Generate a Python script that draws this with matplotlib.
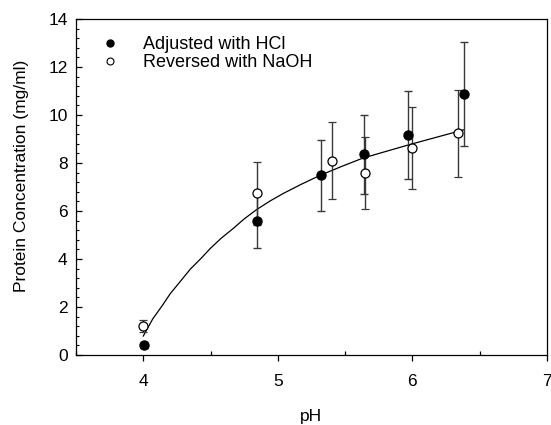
import matplotlib
matplotlib.use("Agg")
import matplotlib.pyplot as plt
from matplotlib.ticker import MultipleLocator
from matplotlib.lines import Line2D

plt.rcParams['font.family'] = ['Liberation Sans', 'DejaVu Sans']

# Adjusted with HCl (filled)
hcl_ph = [4.005, 4.847, 5.319, 5.64, 5.967, 6.38]
hcl_conc = [0.40, 5.60, 7.48, 8.36, 9.17, 10.88]
hcl_err = [0.10, 1.13, 1.48, 1.66, 1.82, 2.17]

# Reversed with NaOH (open)
naoh_ph = [4.0, 4.845, 5.40, 5.645, 6.0, 6.336]
naoh_conc = [1.22, 6.74, 8.10, 7.57, 8.62, 9.23]
naoh_err = [0.25, 1.31, 1.60, 1.50, 1.72, 1.82]

# Fitted curve
fit_ph = [4.00, 4.07, 4.14, 4.20, 4.28, 4.35, 4.43, 4.50, 4.58, 4.67, 4.75, 4.84,
          4.94, 5.04, 5.18, 5.32, 5.48, 5.63, 5.82, 6.00, 6.19, 6.38]
fit_conc = [0.79, 1.50, 2.05, 2.55, 3.10, 3.58, 4.03, 4.45, 4.87, 5.28, 5.67, 6.05,
            6.41, 6.73, 7.13, 7.50, 7.87, 8.20, 8.51, 8.80, 9.09, 9.38]

fig = plt.figure(figsize=(5.51, 4.25), dpi=100)
ax = fig.add_axes([0.1379, 0.1647, 0.8548, 0.7906])

ax.plot(fit_ph, fit_conc, color='black', lw=0.9, zorder=2)

ekw = dict(ecolor='#383838', elinewidth=1.0, capsize=3.2, capthick=1.0, ls='none', zorder=3)
ax.errorbar(hcl_ph, hcl_conc, yerr=hcl_err, fmt='o', mfc='black', mec='black',
            ms=6.5, label='Adjusted with HCl', **ekw)
ax.errorbar(naoh_ph, naoh_conc, yerr=naoh_err, fmt='o', mfc='white', mec='black',
            mew=0.9, ms=6.5, label='Reversed with NaOH', **ekw)

ax.set_xlim(3.5, 7)
ax.set_ylim(0, 14)
ax.xaxis.set_major_locator(MultipleLocator(1))
ax.xaxis.set_minor_locator(MultipleLocator(0.5))
ax.yaxis.set_major_locator(MultipleLocator(2))
ax.yaxis.set_minor_locator(MultipleLocator(0.4))

ax.tick_params(axis='x', which='major', direction='out', length=4, width=0.9, labelsize=12.5, pad=10)
ax.tick_params(axis='x', which='minor', direction='in', length=3, width=0.9)
ax.tick_params(axis='y', which='major', direction='in', length=4, width=0.9, labelsize=12.5, pad=6)
ax.tick_params(axis='y', which='minor', direction='in', length=2.5, width=0.8)
ax.tick_params(top=False, right=False, which='both')

for s in ax.spines.values():
    s.set_linewidth(0.9)

ax.set_xlabel('pH', fontsize=12.5, labelpad=14)
ax.set_ylabel('Protein Concentration (mg/ml)', fontsize=12.5)
ax.yaxis.set_label_coords(-0.1, 0.533)

labels = ['Adjusted with HCl', 'Reversed with NaOH']
h1 = Line2D([], [], marker='o', ls='none', mfc='black', mec='black', ms=5)
h2 = Line2D([], [], marker='o', ls='none', mfc='white', mec='black', ms=5, mew=0.8)
ax.legend([h1, h2], labels, loc='upper left', bbox_to_anchor=(0.053, 0.948), frameon=False,
          fontsize=13, handlelength=1.0, handletextpad=1.33, labelspacing=0.05,
          borderaxespad=0, borderpad=0)

fig.savefig('out.png', dpi=100)
